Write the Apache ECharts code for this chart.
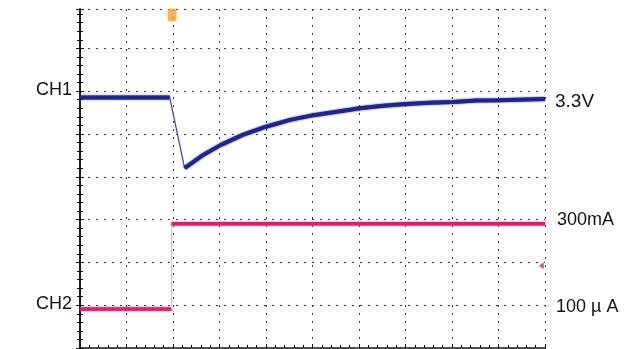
<!DOCTYPE html>
<html>
<head>
<meta charset="utf-8">
<script src="https://cdn.jsdelivr.net/npm/echarts@6/dist/echarts.min.js"></script>
<style>
  html, body { margin: 0; padding: 0; background: #fff; }
  #chart { width: 630px; height: 349px; }
</style>
</head>
<body>
<div id="chart"></div>
<script>
// scope screen in divisions: x 0..10, y 0..~8
const ch1Before = [[0, 5.85], [1.93, 5.85]]
const ch1Edge = [[1.93, 5.85], [2.25, 4.2]]
const ch1After = [
  [2.25, 4.2], [2.65, 4.51], [3.02, 4.74], [3.5, 4.98], [4.0, 5.17],
  [4.52, 5.33], [5.02, 5.44], [5.52, 5.52], [6.02, 5.6], [6.52, 5.66],
  [7.02, 5.7], [7.52, 5.73], [8.02, 5.75], [8.52, 5.78], [9.02, 5.79], [10, 5.82]
]
const ch2Before = [[0, 0.91], [1.97, 0.91]]
const ch2Edge = [[1.97, 0.91], [1.97, 2.9]]
const ch2After = [[1.97, 2.9], [10, 2.9]]
const triggerPos = [[1.98, 7.78]]
const ch2Marker = [[9.92, 1.92]]

const blue = '#1f2689'
const pink = '#d6256f'
const gridDash = { color: '#3a3a3a', width: 1, type: [2, 6] }
const font = 'Liberation Sans, Arial, sans-serif'

const chart = echarts.init(document.getElementById('chart'))

function traceSeries(data, color, width) {
  return {
    type: 'line',
    data,
    showSymbol: false,
    smooth: false,
    animation: false,
    lineStyle: { color, width, shadowBlur: width > 1.5 ? 2 : 0, shadowColor: color }
  }
}

const borderAxis = {
  min: 0,
  axisLabel: { show: false },
  axisLine: { show: true, lineStyle: { color: '#111', width: 1.5 } },
  axisTick: { show: true, inside: true, length: 4, lineStyle: { color: '#111' } },
  minorTick: { show: true, splitNumber: 5, length: 3, lineStyle: { color: '#111' } }
}

chart.setOption({
  animation: false,
  grid: { left: 80, right: 85, top: 9, bottom: 1 },
  xAxis: [
    {
      ...borderAxis,
      type: 'value',
      max: 10,
      interval: 1,
      position: 'bottom',
      splitLine: { show: true, lineStyle: gridDash }
    },
    {
      type: 'value',
      min: 0,
      max: 10,
      position: 'top',
      axisLabel: { show: false },
      axisTick: { show: false },
      splitLine: { show: false },
      axisLine: { show: true, lineStyle: { color: '#555', width: 1.5 } }
    }
  ],
  yAxis: [
    {
      ...borderAxis,
      type: 'value',
      max: 7.92,
      interval: 1,
      position: 'left',
      splitLine: { show: true, lineStyle: gridDash }
    },
    {
      ...borderAxis,
      type: 'value',
      max: 7.92,
      interval: 1,
      position: 'right',
      splitLine: { show: false }
    }
  ],
  series: [
    traceSeries(ch1Before, blue, 4),
    traceSeries(ch1Edge, '#3d4399', 1.2),
    traceSeries(ch1After, blue, 4),
    traceSeries(ch2Before, pink, 3.5),
    traceSeries(ch2Edge, '#eeb3cb', 1),
    traceSeries(ch2After, pink, 3.5),
    {
      type: 'scatter',
      data: triggerPos,
      symbol: 'roundRect',
      symbolSize: [9, 13],
      itemStyle: { color: '#f0a12c' },
      silent: true
    },
    {
      type: 'scatter',
      data: ch2Marker,
      symbol: 'triangle',
      symbolRotate: 90,
      symbolSize: [7, 5],
      itemStyle: { color: '#b0307a' },
      silent: true
    }
  ],
  graphic: [
    { type: 'text', left: 36, top: 81, style: { text: 'CH1', font: '18px ' + font, fill: '#111' } },
    { type: 'text', left: 36, top: 295, style: { text: 'CH2', font: '18px ' + font, fill: '#111' } },
    { type: 'text', left: 555, top: 92, style: { text: '3.3V', font: '19px ' + font, fill: '#111' } },
    { type: 'text', left: 557, top: 211, style: { text: '300mA', font: '18px ' + font, fill: '#111' } },
    { type: 'text', left: 556, top: 298, style: { text: '100 µ A', font: '18px ' + font, fill: '#111' } }
  ]
})
</script>
</body>
</html>
